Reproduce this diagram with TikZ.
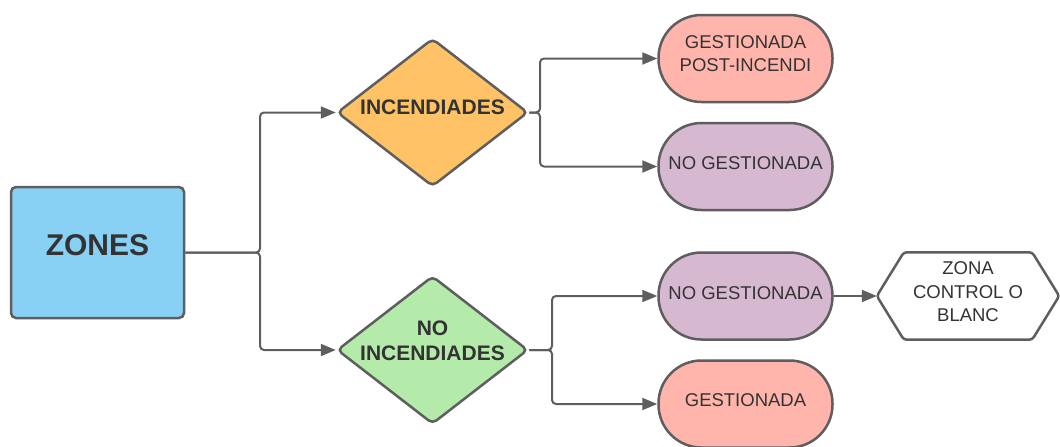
\documentclass[tikz,border=0pt]{standalone}
\usepackage{fontspec}
\setmainfont{Liberation Sans}
\usetikzlibrary{arrows.meta,shapes.geometric}
\definecolor{strokec}{HTML}{5E5E5E}
\definecolor{textc}{HTML}{333333}
\definecolor{bluef}{HTML}{89D1F4}
\definecolor{orangef}{HTML}{FFC266}
\definecolor{greenf}{HTML}{B5EBAA}
\definecolor{pinkf}{HTML}{FFB5AC}
\definecolor{purplef}{HTML}{D7B8D1}
\newcommand\liftlines[2]{\raisebox{#1}[\height][\depth]{\begin{tabular}{@{}c@{}}#2\end{tabular}}}
\tikzset{
  base/.style={draw=strokec, line width=2.5pt, text=textc, inner sep=0pt, align=center},
  startbox/.style={base, rectangle, rounded corners=5pt, fill=bluef, minimum width=173pt, minimum height=131pt, font=\bfseries\fontsize{30}{35}\selectfont},
  decision/.style={base, diamond, rounded corners=5pt, minimum width=191pt, minimum height=148pt, font=\bfseries\fontsize{21}{25.5}\selectfont},
  pill/.style={base, rectangle, rounded corners=43pt, minimum width=174pt, minimum height=87pt, font=\fontsize{18.5}{23}\selectfont},
  hexbox/.style={rectangle, inner sep=0pt, minimum width=182pt, minimum height=87pt, text=textc, align=center, font=\fontsize{18.5}{23.3}\selectfont},
  conn/.style={draw=strokec, line width=2pt, rounded corners=4pt, -{Triangle[length=15pt,width=12pt]}},
}
\begin{document}
\begin{tikzpicture}[x=1pt,y=-1pt]
\useasboundingbox (0,0) rectangle (1060,447);
\node[startbox] (zones) at (97.5,252.5) {\liftlines{4pt}{ZONES}};
\node[decision, fill=orangef] (inc) at (432.5,112.5) {\makebox[0pt]{\liftlines{3pt}{INCENDIADES}}};
\node[decision, fill=greenf] (noinc) at (432.5,350) {\makebox[0pt]{\liftlines{7pt}{NO\\INCENDIADES}}};
\node[pill, fill=pinkf] (gpi) at (745.5,58.5) {\liftlines{3pt}{GESTIONADA\\POST-INCENDI}};
\node[pill, fill=purplef] (ng1) at (745.5,166.5) {\liftlines{1.5pt}{NO GESTIONADA}};
\node[pill, fill=purplef] (ng2) at (745.5,296) {\liftlines{1.5pt}{NO GESTIONADA}};
\node[pill, fill=pinkf] (ges) at (745.5,404) {\liftlines{2.5pt}{GESTIONADA}};
\node[hexbox] (hex) at (968,296) {};
\draw[strokec, line width=2.5pt, rounded corners=3pt, fill=white]
  (hex.west) -- ([xshift=27pt]hex.north west) -- ([xshift=-27pt]hex.north east)
  -- (hex.east) -- ([xshift=-27pt]hex.south east) -- ([xshift=27pt]hex.south west) -- cycle;
\node[hexbox] (hextext) at (hex.center) {\liftlines{2.5pt}{ZONA\\CONTROL O\\BLANC}};
\coordinate (b0) at (260,252.5);
\coordinate (b1) at (540,112.5);
\coordinate (b2) at (552,350);
\draw[conn] (zones.east) -- (b0) |- (inc.west);
\draw[conn] (zones.east) -- (b0) |- (noinc.west);
\draw[conn] (inc.east) -- (b1) |- (gpi.west);
\draw[conn] (inc.east) -- (b1) |- (ng1.west);
\draw[conn] (noinc.east) -- (b2) |- (ng2.west);
\draw[conn] (noinc.east) -- (b2) |- (ges.west);
\draw[conn] (ng2.east) -- (hex.west);
\end{tikzpicture}
\end{document}
